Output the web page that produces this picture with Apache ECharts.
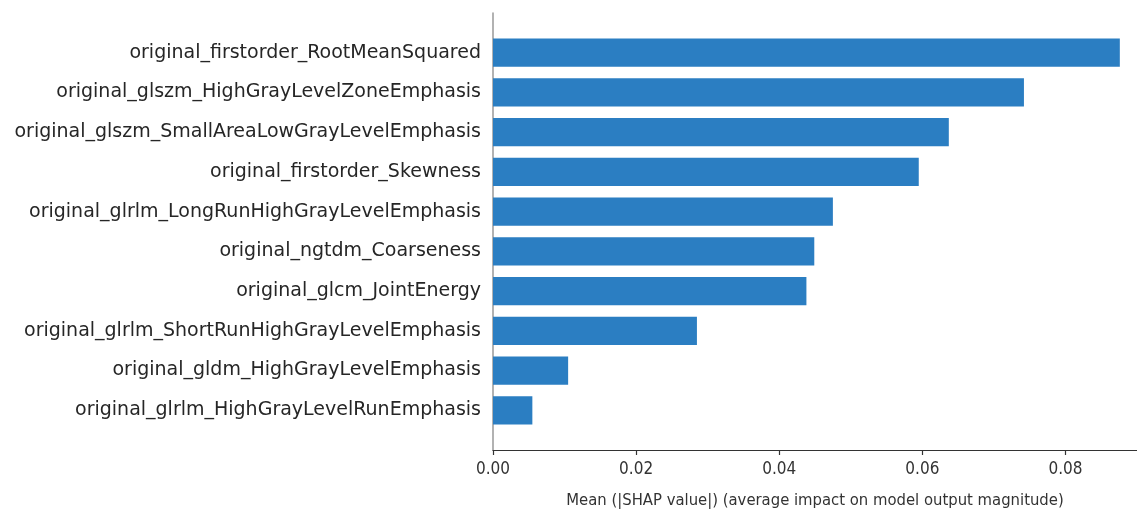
<!DOCTYPE html>
<html>
<head>
<meta charset="utf-8">
<script src="https://cdn.jsdelivr.net/npm/echarts@6/dist/echarts.min.js"></script>
<style>
  html, body { margin: 0; padding: 0; background: #fff; overflow: hidden; }
  #chart { width: 1137px; height: 514px; }
</style>
</head>
<body>
<div id="chart"></div>
<script>
// Feature names, most important first
const features = [
  'original_firstorder_RootMeanSquared',
  'original_glszm_HighGrayLevelZoneEmphasis',
  'original_glszm_SmallAreaLowGrayLevelEmphasis',
  'original_firstorder_Skewness',
  'original_glrlm_LongRunHighGrayLevelEmphasis',
  'original_ngtdm_Coarseness',
  'original_glcm_JointEnergy',
  'original_glrlm_ShortRunHighGrayLevelEmphasis',
  'original_gldm_HighGrayLevelEmphasis',
  'original_glrlm_HighGrayLevelRunEmphasis'
];

// Mean |SHAP value| per feature
const meanAbsShap = [0.0876, 0.0742, 0.0637, 0.0595, 0.0475, 0.0449, 0.0438, 0.0285, 0.0105, 0.0055];

// X axis tick values
const xTicks = [0.00, 0.02, 0.04, 0.06, 0.08];

const xAxisName = 'Mean (|SHAP value|) (average impact on model output magnitude)';

// One empty slot above and below the bars leaves a full row of space at each end
const yCats = [''].concat(features, ['']);
const yVals = [null].concat(meanAbsShap, [null]);

const chart = echarts.init(document.getElementById('chart'), null, { renderer: 'canvas' });

const narrowFont = '"Liberation Sans Narrow", "DejaVu Sans Condensed", "Roboto", sans-serif';

chart.setOption({
  animation: false,
  grid: { left: 493, right: 0, top: 13, bottom: 59, containLabel: false },
  xAxis: {
    type: 'value',
    min: 0,
    max: 0.09,
    interval: 0.02,
    name: xAxisName,
    nameLocation: 'middle',
    nameGap: 42,
    nameTextStyle: { fontFamily: narrowFont, fontSize: 16.5, color: '#333' },
    axisLine: { show: true, lineStyle: { color: '#333', width: 1.2 } },
    axisTick: { show: true, length: 5, lineStyle: { color: '#333', width: 1.2 } },
    axisLabel: {
      fontFamily: narrowFont, fontSize: 17, color: '#333', margin: 11,
      showMaxLabel: false,
      formatter: v => xTicks.some(t => Math.abs(t - v) < 1e-9) ? v.toFixed(2) : ''
    },
    splitLine: { show: false }
  },
  yAxis: {
    type: 'category',
    data: yCats,
    inverse: true,
    boundaryGap: false,
    axisLine: { show: true, lineStyle: { color: '#999', width: 1.5 } },
    axisTick: { show: false },
    axisLabel: { fontFamily: '"DejaVu Sans", sans-serif', fontSize: 19, color: '#262626', margin: 12, interval: 0 },
    splitLine: { show: false }
  },
  series: [{
    type: 'bar',
    data: yVals,
    barWidth: '71%',
    itemStyle: { color: '#2b7ec2' }
  }]
});
</script>
</body>
</html>
